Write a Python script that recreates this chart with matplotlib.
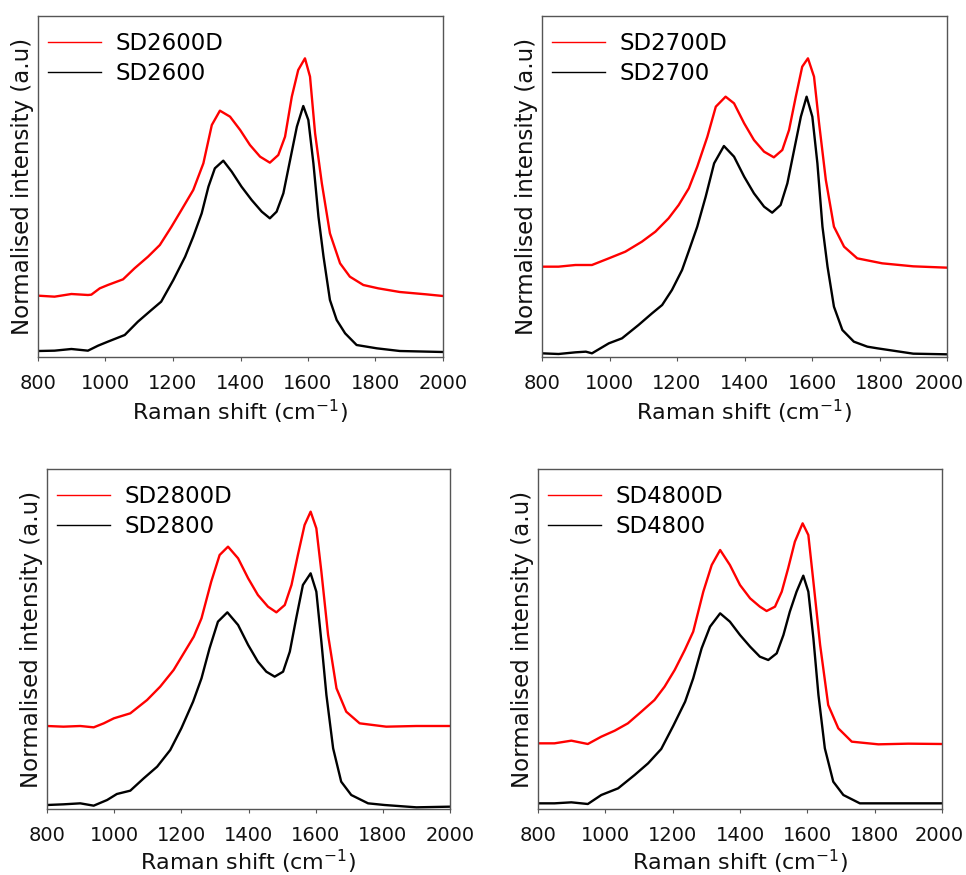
import matplotlib
matplotlib.use("Agg")
import matplotlib.pyplot as plt
from matplotlib.transforms import ScaledTranslation

# ---- data (Raman shift in cm^-1, intensity in arbitrary units) ----
x_p1_red = [800, 849, 899, 948, 958, 983, 1007, 1052, 1086, 1126, 1161, 1195, 1225, 1260, 1290, 1315, 1339, 1369, 1399, 1428, 1458, 1487, 1512, 1532, 1552, 1571, 1591, 1606, 1621, 1641, 1665, 1695, 1724, 1764, 1808, 1872, 1950, 2000]
y_p1_red = [184, 181, 189, 186, 187, 206, 216, 233, 266, 301, 336, 390, 441, 501, 581, 696, 739, 721, 681, 636, 601, 583, 606, 661, 781, 861, 896, 841, 671, 521, 371, 281, 241, 216, 206, 195, 188, 183]
x_p1_blk = [800, 849, 899, 948, 978, 1007, 1057, 1096, 1136, 1165, 1201, 1236, 1260, 1285, 1305, 1324, 1349, 1374, 1403, 1433, 1463, 1487, 1507, 1527, 1547, 1567, 1586, 1601, 1616, 1631, 1646, 1665, 1685, 1710, 1744, 1804, 1872, 2000]
y_p1_blk = [18, 19, 24, 19, 34, 46, 66, 106, 141, 166, 231, 301, 361, 431, 511, 566, 589, 556, 511, 471, 436, 416, 436, 491, 591, 691, 753, 711, 581, 421, 301, 171, 111, 71, 36, 26, 18, 15]

x_p2_red = [800, 849, 899, 948, 998, 1047, 1096, 1136, 1175, 1205, 1235, 1260, 1290, 1315, 1344, 1369, 1399, 1428, 1458, 1487, 1512, 1532, 1552, 1571, 1588, 1606, 1621, 1641, 1665, 1695, 1734, 1808, 1900, 2000]
y_p2_red = [271, 271, 276, 276, 296, 316, 346, 376, 416, 456, 506, 571, 661, 751, 781, 761, 701, 651, 616, 599, 621, 681, 781, 871, 896, 841, 701, 531, 391, 331, 296, 281, 272, 268]
x_p2_blk = [800, 849, 899, 930, 948, 998, 1037, 1086, 1126, 1156, 1185, 1215, 1236, 1260, 1285, 1310, 1339, 1369, 1399, 1428, 1458, 1482, 1507, 1527, 1547, 1567, 1584, 1601, 1616, 1631, 1646, 1665, 1690, 1724, 1764, 1794, 1900, 2000]
y_p2_blk = [11, 9, 14, 16, 11, 41, 56, 96, 131, 156, 201, 261, 321, 391, 481, 581, 633, 601, 541, 491, 451, 433, 456, 521, 621, 721, 781, 721, 581, 391, 271, 151, 81, 46, 31, 26, 10, 8]

x_p3_red = [800, 849, 899, 939, 969, 999, 1048, 1098, 1137, 1177, 1207, 1237, 1260, 1289, 1314, 1339, 1369, 1399, 1428, 1458, 1483, 1508, 1528, 1547, 1567, 1585, 1602, 1617, 1637, 1662, 1691, 1731, 1810, 1900, 2000]
y_p3_red = [249, 247, 249, 245, 257, 272, 287, 327, 367, 417, 467, 517, 572, 682, 762, 787, 752, 692, 642, 607, 590, 612, 672, 762, 852, 892, 842, 712, 522, 362, 292, 257, 247, 249, 249]
x_p3_blk = [800, 849, 899, 939, 979, 1008, 1048, 1088, 1128, 1167, 1200, 1235, 1260, 1284, 1309, 1337, 1369, 1399, 1428, 1453, 1478, 1503, 1523, 1542, 1562, 1585, 1602, 1617, 1632, 1652, 1676, 1706, 1756, 1805, 1900, 2000]
y_p3_blk = [12, 14, 17, 10, 27, 45, 55, 92, 127, 177, 242, 322, 392, 482, 562, 590, 552, 492, 442, 412, 397, 412, 472, 572, 672, 707, 652, 502, 342, 182, 82, 42, 17, 12, 5, 7]

x_p4_red = [800, 849, 899, 948, 988, 1028, 1067, 1107, 1146, 1176, 1206, 1236, 1261, 1291, 1316, 1341, 1370, 1400, 1430, 1459, 1479, 1504, 1524, 1543, 1563, 1586, 1603, 1618, 1638, 1662, 1692, 1732, 1811, 1900, 2000]
y_p4_red = [197, 197, 205, 195, 217, 235, 257, 292, 327, 367, 417, 477, 532, 652, 732, 777, 732, 672, 632, 607, 594, 607, 652, 722, 802, 857, 822, 682, 492, 312, 242, 202, 194, 196, 195]
x_p4_blk = [800, 849, 899, 948, 988, 1038, 1087, 1127, 1166, 1202, 1237, 1261, 1286, 1311, 1341, 1370, 1400, 1430, 1459, 1484, 1509, 1529, 1548, 1568, 1588, 1603, 1618, 1633, 1652, 1677, 1707, 1756, 1806, 1900, 2000]
y_p4_blk = [17, 17, 20, 15, 42, 62, 102, 137, 180, 250, 322, 392, 482, 547, 587, 562, 522, 487, 457, 447, 467, 522, 592, 652, 700, 652, 512, 342, 182, 82, 42, 17, 17, 17, 17]

labels_red = ["SD2600D", "SD2700D", "SD2800D", "SD4800D"]
labels_blk = ["SD2600", "SD2700", "SD2800", "SD4800"]
x_ticks = [800, 1000, 1200, 1400, 1600, 1800, 2000]
ymax = [1023, 1023, 1020, 1020]

panels = [
    (x_p1_red, y_p1_red, x_p1_blk, y_p1_blk),
    (x_p2_red, y_p2_red, x_p2_blk, y_p2_blk),
    (x_p3_red, y_p3_red, x_p3_blk, y_p3_blk),
    (x_p4_red, y_p4_red, x_p4_blk, y_p4_blk),
]

W, H = 966, 875
# axes boxes in pixels: left, top, right, bottom
boxes = [(38, 16, 443, 357), (542, 16, 947, 357), (47, 469, 450, 809), (538, 469, 942, 809)]

fig = plt.figure(figsize=(W / 100, H / 100), dpi=100)
for i, (xr, yr, xb, yb) in enumerate(panels):
    l, t, r, b = boxes[i]
    ax = fig.add_axes([l / W, 1 - b / H, (r - l) / W, (b - t) / H])
    ax.plot(xr, yr, color="#ff0000", lw=1.7, label=labels_red[i])
    ax.plot(xb, yb, color="black", lw=1.7, label=labels_blk[i])
    ax.set_xlim(800, 2000)
    ax.set_ylim(0, ymax[i])
    ax.set_xticks(x_ticks)
    ax.set_yticks([])
    ax.tick_params(axis="x", direction="out", length=3, width=0.8, labelsize=14,
                   colors="#555555", labelcolor="#111111", pad=9)
    for s in ax.spines.values():
        s.set_color("#555555")
        s.set_linewidth(1.0)
    # keep the last tick label inside the figure
    overflow = r + 26 - (W - 1)
    if overflow > 0:
        lab = ax.get_xticklabels()[-1]
        lab.set_transform(lab.get_transform() +
                          ScaledTranslation(-overflow / 100, 0, fig.dpi_scale_trans))
    ax.set_xlabel("Raman shift (cm$^{-1}$)", fontsize=16,
                  labelpad=4 if i < 2 else 2, color="#111111")
    ax.set_ylabel("Normalised intensity (a.u)", fontsize=16.5, labelpad=3, color="#111111")
    leg = ax.legend(loc="upper left", bbox_to_anchor=(0, 1 - 6 / (b - t)), frameon=False,
                    fontsize=16.5, handlelength=2.3, handletextpad=0.65,
                    borderaxespad=0.05, labelspacing=0.28)
    for ln in leg.get_lines():
        ln.set_linewidth(1.0)

fig.savefig("out.png", dpi=100)
